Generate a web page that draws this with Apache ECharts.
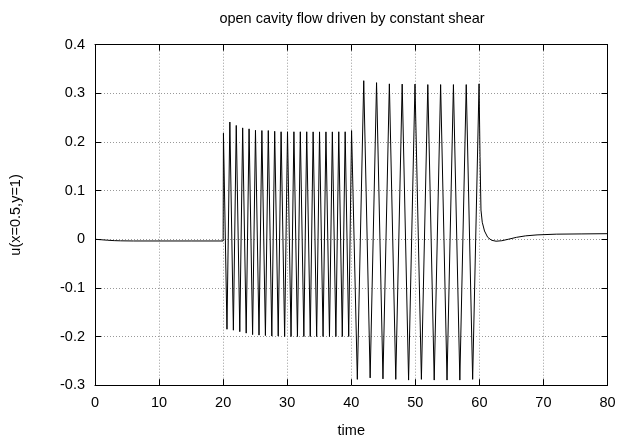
<!DOCTYPE html>
<html>
<head>
<meta charset="utf-8">
<script src="https://cdn.jsdelivr.net/npm/echarts@6/dist/echarts.min.js"></script>
<style>
html, body { margin: 0; padding: 0; background: #fff; }
#chart { width: 633px; height: 439px; }
</style>
</head>
<body>
<div id="chart"></div>
<script>
// quiet start, t = 0..20
var t0 = [0, 1, 2, 3, 4, 6, 10, 15];
var u0 = [0, -0.001, -0.002, -0.0028, -0.0032, -0.0035, -0.0035, -0.0035];

// first oscillation regime, t = 20..40 (peak, trough, peak ...)
var t1 = [20.0, 20.05, 20.6, 21.05, 21.6, 22.05, 22.6, 23.05, 23.6, 24.05, 24.6,
          25.05, 25.6, 26.05, 26.6, 27.05, 27.6, 28.05, 28.6, 29.05, 29.6,
          30.05, 30.6, 31.05, 31.6, 32.05, 32.6, 33.05, 33.6, 34.05, 34.6,
          35.05, 35.6, 36.05, 36.6, 37.05, 37.6, 38.05, 38.6, 39.05, 39.6, 40.05];
var u1 = [-0.0035, 0.218, -0.185, 0.241, -0.187, 0.234, -0.190, 0.229, -0.193, 0.227, -0.196,
          0.224, -0.197, 0.2235, -0.198, 0.2235, -0.199, 0.222, -0.199, 0.221, -0.2,
          0.221, -0.2, 0.221, -0.2, 0.221, -0.2, 0.221, -0.2, 0.2208, -0.2,
          0.2208, -0.2, 0.2208, -0.2, 0.2208, -0.2, 0.221, -0.2, 0.221, -0.2, 0.2235];

// second regime, t = 40..60
var t2 = [40.95, 41.95, 42.95, 43.95, 44.95, 45.95, 46.95, 47.95, 48.95, 49.95,
          50.95, 51.95, 52.95, 53.95, 54.95, 55.95, 56.95, 57.95, 58.95, 59.95];
var u2 = [-0.288, 0.326, -0.285, 0.322, -0.287, 0.3195, -0.288, 0.319, -0.2895, 0.319,
          -0.288, 0.318, -0.2895, 0.318, -0.2895, 0.318, -0.2895, 0.318, -0.288, 0.3195];

// decay after t = 60
var t3 = [60.1, 60.25, 60.45, 60.8, 61.3, 61.9, 62.6, 63.5, 64.5, 65.8, 67.2, 69, 72, 76, 80];
var u3 = [0.17, 0.06, 0.035, 0.017, 0.004, -0.002, -0.004, -0.003, 0.0, 0.004, 0.007, 0.009, 0.0105, 0.011, 0.0115];

var xTicks = [0, 10, 20, 30, 40, 50, 60, 70, 80];
var yTicks = [-0.3, -0.2, -0.1, 0, 0.1, 0.2, 0.3, 0.4];

var times = t0.concat(t1, t2, t3);
var values = u0.concat(u1, u2, u3);
var data = times.map(function (t, i) { return [t, values[i]]; });

var myChart = echarts.init(document.getElementById('chart'));
var font = 'Liberation Sans, Arial, sans-serif';
var fs = 14.5;

function fmtY(v) {
    var r = Math.round(v * 10) / 10;
    return r === 0 ? '0' : String(r);
}

var gridLine = { show: true, lineStyle: { color: '#999', type: [1, 2], width: 1 } };
var tickIn = { show: true, inside: true, length: 6, lineStyle: { color: '#000' } };
var axLine = { show: true, onZero: false, lineStyle: { color: '#000', width: 1 } };

var option = {
    animation: false,
    backgroundColor: '#fff',
    title: {
        text: 'open cavity flow driven by constant shear',
        left: 347,
        top: 6,
        textAlign: 'center',
        textStyle: { fontFamily: font, fontSize: fs, fontWeight: 'normal', color: '#000' }
    },
    grid: { left: 95, right: 25.5, top: 44.7, bottom: 53.8, containLabel: false, outerBoundsMode: 'none' },
    xAxis: [
        {
            type: 'value', min: xTicks[0], max: xTicks[xTicks.length - 1], interval: 10,
            position: 'bottom',
            name: 'time', nameLocation: 'middle', nameGap: 38,
            nameTextStyle: { fontFamily: font, fontSize: fs, color: '#000' },
            axisLine: axLine, axisTick: tickIn, splitLine: gridLine,
            axisLabel: { fontFamily: font, fontSize: fs, color: '#000', margin: 10 }
        },
        {
            type: 'value', min: xTicks[0], max: xTicks[xTicks.length - 1], interval: 10,
            position: 'top',
            axisLine: axLine, axisTick: tickIn, splitLine: { show: false },
            axisLabel: { show: false }
        }
    ],
    yAxis: [
        {
            type: 'value', min: yTicks[0], max: yTicks[yTicks.length - 1], interval: 0.1,
            position: 'left',
            name: 'u(x=0.5,y=1)', nameLocation: 'middle', nameGap: 72, nameRotate: 90,
            nameTextStyle: { fontFamily: font, fontSize: fs, color: '#000' },
            axisLine: axLine, axisTick: tickIn, splitLine: gridLine,
            axisLabel: { fontFamily: font, fontSize: fs, color: '#000', margin: 10, formatter: fmtY }
        },
        {
            type: 'value', min: yTicks[0], max: yTicks[yTicks.length - 1], interval: 0.1,
            position: 'right',
            axisLine: axLine, axisTick: tickIn, splitLine: { show: false },
            axisLabel: { show: false }
        }
    ],
    series: [
        {
            type: 'line',
            xAxisIndex: 0,
            yAxisIndex: 0,
            data: data,
            showSymbol: false,
            symbol: 'none',
            lineStyle: { color: '#000', width: 1 }
        }
    ]
};

myChart.setOption(option);
</script>
</body>
</html>
